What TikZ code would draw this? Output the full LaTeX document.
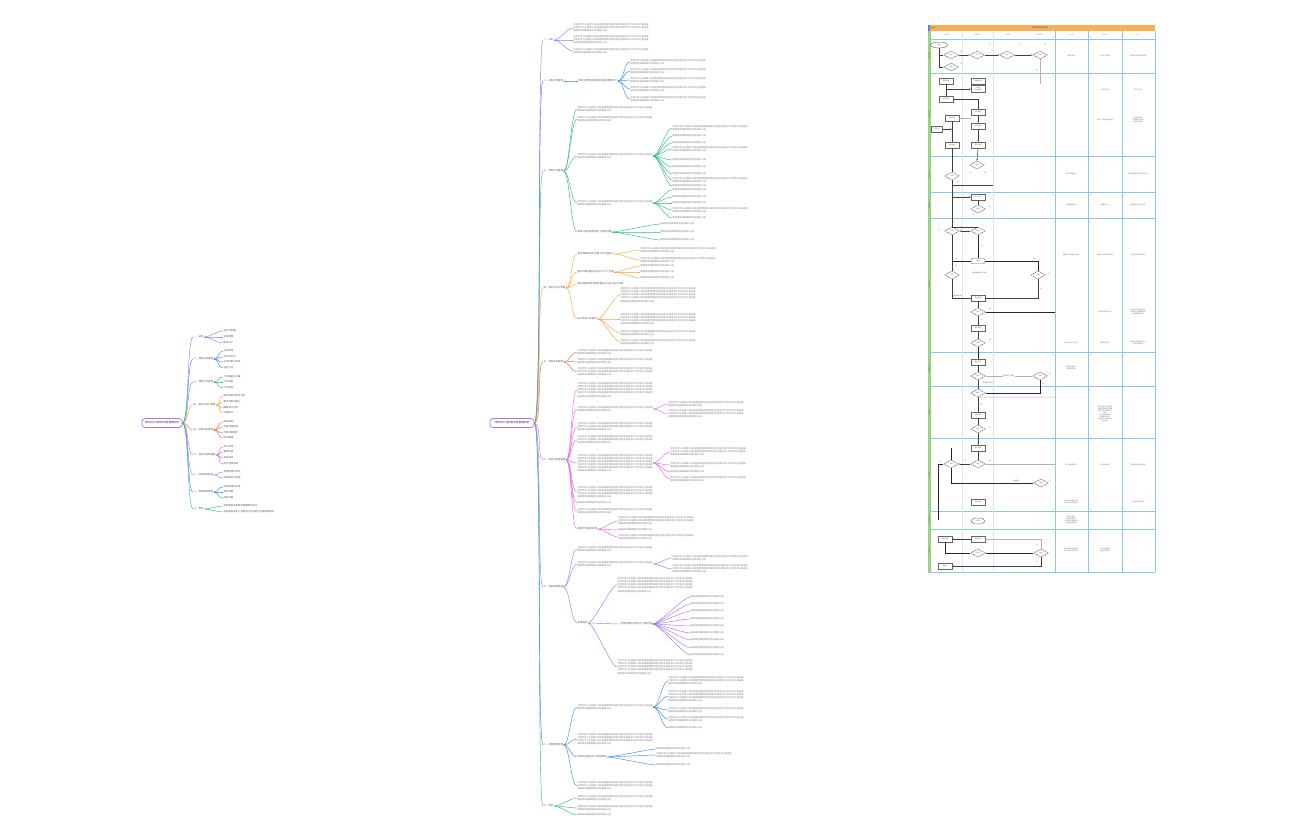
\documentclass[tikz,border=0pt]{standalone}
\usepackage{fontspec}
\setmainfont{Noto Sans CJK SC}
\usetikzlibrary{arrows.meta,shapes.geometric,shapes.misc}

\definecolor{mpurple}{HTML}{A577F2}
\definecolor{mblue}{HTML}{3F88F2}
\definecolor{mgreen}{HTML}{2DBE7E}
\definecolor{morange}{HTML}{F5A53A}
\definecolor{mred}{HTML}{F2653F}
\definecolor{mpink}{HTML}{EE63DD}
\definecolor{lanegreen}{HTML}{9AD47E}
\definecolor{gridblue}{HTML}{8CC6EE}
\definecolor{headorange}{HTML}{F7AE55}

\newcommand\lineA{项目负责人应按照公司研发管理制度的规定组织实施各项工作并及时汇报进展}
\newcommand\lineB{确保项目按期保质完成并做好记录。}
\ExplSyntaxOn
\NewDocumentCommand\blk{m}{\prg_replicate:nn{#1-1}{\lineA\\}\lineB}
\ExplSyntaxOff
\newcommand\conn[3]{\draw[br,#1] (#2.east) .. controls +(6,0) and +(-6,0) .. (#3.west);}

\tikzset{
  root/.style={draw=mpurple, line width=0.7pt, rounded corners=3pt, fill=white,
    minimum height=9, inner sep=1pt, text=black!80, font=\fontsize{2.6}{3}\selectfont},
  lone/.style={anchor=west, inner sep=0.5pt, text=black!65, font=\fontsize{2.4}{3}\selectfont},
  txt/.style={anchor=west, inner sep=0.5pt, align=left, text=black!50, font=\fontsize{2.2}{3.1}\selectfont},
  br/.style={line width=0.45pt},
  % flow chart
  fbox/.style={draw=black!60, fill=white, line width=0.35pt, minimum width=14, minimum height=5.5,
    inner sep=0.3pt, align=center, text=black!65, font=\fontsize{1.6}{1.9}\selectfont},
  fdia/.style={diamond, draw=black!70, dash pattern=on 0.8pt off 0.5pt, line width=0.4pt, fill=white,
    minimum width=15, minimum height=8, inner sep=0, text=black!65, font=\fontsize{1.6}{1.9}\selectfont},
  fstart/.style={ellipse, draw=black!65, line width=0.4pt, fill=white, minimum width=17, minimum height=6,
    inner sep=0, text=black!65, font=\fontsize{1.7}{2}\selectfont},
  frnd/.style={fbox, rounded corners=2pt},
  fhex/.style={chamfered rectangle, chamfered rectangle xsep=2pt, draw=black!70, dash pattern=on 0.8pt off 0.5pt,
    line width=0.4pt, minimum width=14, minimum height=5, inner sep=0.3pt, text=black!65, font=\fontsize{1.6}{1.9}\selectfont},
  flab/.style={inner sep=0.2pt, text=black!65, font=\fontsize{1.5}{1.8}\selectfont},
  fcol/.style={inner sep=0.3pt, align=center, text width=30, text=black!55, font=\fontsize{1.6}{2.1}\selectfont},
  fl/.style={line width=0.5pt, black!75},
  fa/.style={fl, -{Stealth[length=1.6pt,width=1.4pt]}},
  thk/.style={line width=0.8pt, black!85},
  gl/.style={line width=0.5pt, black!30},
  lanelab/.style={rotate=90, inner sep=0, text=black!60, font=\fontsize{1.5}{1.8}\selectfont},
}

\begin{document}
\begin{tikzpicture}[x=1pt, y=-1pt]
\fill[white] (0,0) rectangle (1296,840);
\useasboundingbox (0,0) rectangle (1296,840);

% ---------- small mind map
\node[root, minimum width=40] (lroot) at (162,423) {某科技公司研发项目管理制度};
\foreach \nm/\y/\cl/\tx in {lA/337/mpurple/一、总则, lB/359/mblue/二、项目立项管理,
    lC/382/mgreen/三、项目计划管理, lD/405/morange/四、需求与设计管理, lE/430/mred/五、项目开发管理,
    lF/455/mpink/六、测试与验收管理, lG/475/mpurple/七、项目变更管理, lH/492/mblue/八、项目结项管理,
    lI/509/mgreen/九、附则}
  {\node[lone] (\nm) at (193,\y) {\tx};
   \draw[br,\cl] (lroot.east) .. controls (189,423) and (187,\y) .. (\nm.west);}
\foreach \y/\tx [count=\k] in {331/目的与依据,337/适用范围,343/职责分工}
  {\node[lone] (lA\k) at (223,\y) {\tx}; \conn{mpurple}{lA}{lA\k}}
\foreach \y/\tx [count=\k] in {351/立项申请,357/可行性分析,362/立项评审与审批,368/任务下达}
  {\node[lone] (lB\k) at (223,\y) {\tx}; \conn{mblue}{lB}{lB\k}}
\foreach \y/\tx [count=\k] in {377/计划编制与分解,382/计划评审,388/计划发布}
  {\node[lone] (lC\k) at (223,\y) {\tx}; \conn{mgreen}{lC}{lC\k}}
\foreach \y/\tx [count=\k] in {396/需求调研与需求分析,402/需求评审与确认,408/概要设计评审,413/详细设计}
  {\node[lone] (lD\k) at (223,\y) {\tx}; \conn{morange}{lD}{lD\k}}
\foreach \y/\tx [count=\k] in {422/编码规范,427/开发过程控制,433/代码评审要求,438/版本管理}
  {\node[lone] (lE\k) at (223,\y) {\tx}; \conn{mred}{lE}{lE\k}}
\foreach \y/\tx [count=\k] in {447/单元测试,452/集成测试,458/系统测试,464/用户验收测试}
  {\node[lone] (lF\k) at (223,\y) {\tx}; \conn{mpink}{lF}{lF\k}}
\foreach \y/\tx [count=\k] in {472/变更申请与评估,478/变更审批与实施}
  {\node[lone] (lG\k) at (223,\y) {\tx}; \conn{mpurple}{lG}{lG\k}}
\foreach \y/\tx [count=\k] in {487/结项申请与评审,492/资料归档,498/项目总结}
  {\node[lone] (lH\k) at (223,\y) {\tx}; \conn{mblue}{lH}{lH\k}}
\foreach \y/\tx [count=\k] in {506/本制度由研发部负责解释与修订,512/本制度自发布之日起执行并适用于全部研发项目}
  {\node[lone] (lI\k) at (223,\y) {\tx}; \conn{mgreen}{lI}{lI\k}}

% ---------- large mind map
\node[root, minimum width=44] (mroot) at (512,423) {某科技公司研发项目管理制度};
\foreach \nm/\y/\cl/\tx in {mA/40/mpurple/一、总则, mB/81/mblue/二、项目立项管理,
    mC/171/mgreen/三、项目计划管理, mD/288/morange/四、需求与设计管理, mE/362/mred/五、项目开发管理,
    mF/460/mpink/六、测试与验收管理, mG/587/mpurple/七、项目变更管理, mH/745/mblue/八、项目结项管理,
    mI/806/mgreen/九、附则}
  {\node[lone] (\nm) at (543,\y) {\tx};
   \draw[br,\cl] (mroot.east) .. controls (542,423) and (537,\y) .. (\nm.west);}

% 一
\foreach \y/\n [count=\k] in {28/3,40/3,51/2}
  {\node[txt] (mA\k) at (573,\y) {\blk{\n}}; \conn{mpurple}{mA}{mA\k}}
% 二
\node[lone] (mB1) at (578,81) {项目立项申请及审批的具体要求如下};
\conn{mblue}{mB}{mB1}
\foreach \y/\n [count=\k] in {62/2,71/2,80/2,89/2,99/2}
  {\node[txt] (mB1\k) at (630,\y) {\blk{\n}}; \conn{mblue}{mB1}{mB1\k}}
% 三
\foreach \y/\n [count=\k] in {109/2,119/2,156/2,203/2}
  {\node[txt] (mC\k) at (577,\y) {\blk{\n}}; \conn{mgreen}{mC}{mC\k}}
\node[lone] (mC5) at (577,232) {项目计划的变更按以下程序办理};
\conn{mgreen}{mC}{mC5}
\foreach \y/\n [count=\k] in {128/2,136/1,143/1,149/2,160/1,167/1,174/1,180/2,186/1}
  {\node[txt] (mC3\k) at (672,\y) {\blk{\n}}; \conn{mgreen}{mC3}{mC3\k}}
\foreach \y/\n [count=\k] in {190/1,197/1,203/1,210/2,218/1}
  {\node[txt] (mC4\k) at (672,\y) {\blk{\n}}; \conn{mgreen}{mC4}{mC4\k}}
\foreach \y/\n [count=\k] in {224/1,232/1,240/1}
  {\node[txt] (mC5\k) at (660,\y) {\blk{\n}}; \conn{mgreen}{mC5}{mC5\k}}
% 四
\node[lone] (mD1) at (577,254) {需求调研阶段的主要工作内容如下};
\node[lone] (mD2) at (577,272) {需求评审应重点关注以下几个方面};
\node[lone] (mD3) at (577,284) {需求规格说明书经批准后方可进入设计阶段};
\node[lone] (mD4) at (577,319) {设计阶段工作要求};
\foreach \k in {1,...,4} {\conn{morange}{mD}{mD\k}}
\foreach \y/\n [count=\k] in {250/2,260/2}
  {\node[txt] (mD1\k) at (640,\y) {\blk{\n}}; \conn{morange}{mD1}{mD1\k}}
\foreach \y/\n [count=\k] in {266/1,272/1,278/1}
  {\node[txt] (mD2\k) at (640,\y) {\blk{\n}}; \conn{morange}{mD2}{mD2\k}}
\foreach \y/\n [count=\k] in {295/5,319/4,333/2,342/2}
  {\node[txt] (mD4\k) at (620,\y) {\blk{\n}}; \conn{morange}{mD4}{mD4\k}}
% 五
\foreach \y/\n [count=\k] in {352/2,361/2,372/3}
  {\node[txt] (mE\k) at (577,\y) {\blk{\n}}; \conn{mred}{mE}{mE\k}}
% 六
\foreach \y/\n [count=\k] in {390/5,409/2,427/3,440/3,463/6,492/4,503/1,511/2}
  {\node[txt] (mF\k) at (577,\y) {\blk{\n}}; \conn{mpink}{mF}{mF\k}}
\node[lone] (mF9) at (577,529) {验收不合格的处理};
\conn{mpink}{mF}{mF9}
\foreach \y/\n [count=\k] in {404/2,414/3}
  {\node[txt] (mF2\k) at (668,\y) {\blk{\n}}; \conn{mpink}{mF2}{mF2\k}}
\foreach \y/\n [count=\k] in {452/3,465/2,472/1,479/2}
  {\node[txt] (mF5\k) at (670,\y) {\blk{\n}}; \conn{mpink}{mF5}{mF5\k}}
\foreach \y/\n [count=\k] in {521/3,530/1,537/2}
  {\node[txt] (mF9\k) at (618,\y) {\blk{\n}}; \conn{mpink}{mF9}{mF9\k}}
% 七
\foreach \y/\n [count=\k] in {549/2,564/2}
  {\node[txt] (mG\k) at (577,\y) {\blk{\n}}; \conn{mpurple}{mG}{mG\k}}
\node[lone] (mG3) at (577,623) {变更程序};
\conn{mpurple}{mG}{mG3}
\foreach \y/\n [count=\k] in {558/2,569/3}
  {\node[txt] (mG2\k) at (672,\y) {\blk{\n}}; \conn{mpurple}{mG2}{mG2\k}}
\node[txt] (mG31) at (617,585) {\blk{5}};
\node[lone] (mG32) at (620,624) {变更申请应包括以下主要内容};
\node[txt] (mG33) at (617,667) {\blk{5}};
\foreach \k in {1,2,3} {\conn{mpurple}{mG3}{mG3\k}}
\foreach \y [count=\k] in {597,604,611,619,626,633,640,648,655}
  {\node[txt] (mG32\k) at (690,\y) {\blk{1}}; \conn{mpurple}{mG32}{mG32\k}}
% 八
\foreach \y/\n [count=\k] in {707/2,739/4}
  {\node[txt] (mH\k) at (577,\y) {\blk{\n}}; \conn{mblue}{mH}{mH\k}}
\node[lone] (mH3) at (577,757) {结项时应提交以下项目资料};
\node[txt] (mH4) at (577,786) {\blk{3}};
\conn{mblue}{mH}{mH3} \conn{mblue}{mH}{mH4}
\foreach \y/\n [count=\k] in {681/3,696/4,710/2,719/2,728/1}
  {\node[txt] (mH1\k) at (668,\y) {\blk{\n}}; \conn{mblue}{mH1}{mH1\k}}
\foreach \y/\n [count=\k] in {749/1,755/2,765/1}
  {\node[txt] (mH3\k) at (656,\y) {\blk{\n}}; \conn{mblue}{mH3}{mH3\k}}
% 九
\foreach \y/\n [count=\k] in {798/2,808/2,815/1}
  {\node[txt] (mI\k) at (577,\y) {\blk{\n}}; \conn{mgreen}{mI}{mI\k}}

% ---------- flow chart
\fill[headorange] (928,25) rectangle (1155,31);
\fill[mblue] (928,25) rectangle (929.5,31);
\node[flab, anchor=west] (ftitle) at (930,28) {流程图};
\node[flab, font=\fontsize{2}{2.4}\selectfont] (fhead) at (1040,28) {研发项目管理流程};
\fill[lanegreen] (927.5,31) rectangle (931,572);
\foreach \x/\tx [count=\k] in {947/业务部门,977/项目经理,1008/研发部门,1039/评审委员会,
    1071/输入文档,1105/输出文档,1138/备注}
  {\node[flab, text=gridblue!80!black] (col\k) at (\x,35) {\tx};}
\draw[gridblue, line width=0.6pt] (928,39) -- (1155,39);
\foreach \a/\b/\tx [count=\k] in {39/73/项目立项,73/156/项目计划,156/192/需求分析,192/218/概要设计,
    218/352/开发实施,352/386/集成测试,386/438/系统测试,438/511/用户验收,511/529/项目结项,529/572/项目总结}
  {\draw[gridblue, line width=0.9pt] (928,\b) -- (1155,\b);
   \node[lanelab] (lane\k) at (929.3,{(\a+\b)/2}) {\tx};}
\foreach \x in {962,993}
  \draw[gridblue!40, line width=0.5pt] (\x,31) -- (\x,572);
\foreach \x in {1055,1088,1122,1155}
  \draw[gridblue, line width=0.9pt] (\x,31) -- (\x,572);

% row 1
\node[fstart] (f0) at (939,45) {开始};
\node[fdia] (f1) at (951,55) {审核};
\node[fdia] (f2) at (951,67) {审批};
\node[fdia] (f3) at (977,55) {审核};
\node[fdia] (f4) at (1007,55) {审核};
\node[fdia] (f5) at (1040,55) {审批};
\coordinate (g1) at (1040,84);
\draw[fl] (f0.south) |- (f1.west);
\draw[fl] (f0.south) |- (f2.west);
\draw[fa] (f1.east) -- (f3.west);
\draw[fa] (f3.east) -- (f4.west);
\draw[fa] (f4.east) -- (f5.west);
\draw[gl] (f5.south) -- (g1);
\node[flab] (t1) at (961,52) {否};
\node[flab] (t2) at (961,64) {否};
\node[flab] (t3) at (990,45) {否};
\node[flab] (t4) at (1020,45) {否};
\node[flab] (t5) at (1045,45) {否};
\node[flab] (t6) at (1037,70) {是};
% row 2
\node[fbox] (f6) at (946,81) {立项申请};
\node[fbox] (f7) at (978,81) {项目建议书};
\node[fbox, minimum height=7] (f8) at (978,89) {可行性\\分析报告};
\node[fbox] (f9) at (946,99) {立项评审};
\node[fbox] (f10) at (978,112) {计划编制};
\node[fbox] (f11) at (952,118) {项目计划};
\node[fbox, minimum width=11] (f12) at (937,129) {任务书};
\node[fbox] (f13) at (978,126) {计划审批};
\node[fbox] (f14) at (952,145) {计划发布};
\node[fbox] (f15) at (978,145) {任务分解};
\draw[fl] (f6.south) -- (f9.north);
\draw[fa] (f6.south) |- (f8.west);
\draw[fl] (f9.east) -| (f10.north);
\draw[gl] (f11.east) -- (f10.west |- f11.east);
\draw[fa] (f12.east) -- (f11.south |- f12.east);
\draw[fl] (f11.south) -- (f14.north);
\draw[fa] (f10.south) -- (f13.north);
\draw[fa] (f13.south) -- (f15.north);
% row 3
\node[fdia] (f16) at (977,165) {审核};
\node[fdia] (f17) at (952,176) {评审};
\coordinate (g2) at (993,185);
\draw[fl] (f14.south) -- (f17.north);
\draw[fa] (f15.south) -- (f16.north);
\draw[fl] (f17.south) |- (g2);
\node[flab] (t7) at (970,173) {否};
\node[flab] (t8) at (985,173) {是};
\node[flab] (t9) at (958,182) {是};
% row 4
\node[fbox] (f18) at (978,197) {设计评审};
\node[fdia] (f19) at (978,209) {审核};
\draw[fa] (f17.south) |- (f18.west);
\draw[fl] (f18.south) -- (f19.north);
\node[flab] (t10) at (990,207) {是};
\node[flab] (t11) at (974,215) {否};
% row 5
\node[fdia] (f20) at (952,231) {评审};
\node[fdia] (f21) at (978,231) {审核};
\node[frnd] (f22) at (978,261) {结果};
\node[fdia] (f23) at (952,275) {评审};
\node[fdia] (f24) at (1038,275) {审核};
\node[fbox] (f25) at (978,298) {开发实施};
\node[fdia] (f26) at (978,312) {评审};
\node[fbox] (f27) at (978,328) {单元测试};
\node[fdia] (f28) at (978,343) {审核};
\coordinate (g3) at (1055,312);
\draw[fl] (f17.south) |- (f21.north);
\draw[fa] (f21.west) -- (f20.east);
\draw[thk] (f21.south) -- (f22.north);
\draw[fl] (f20.south) -- (f23.north);
\draw[thk] (f23.north |- f22.west) -- (f22.west);
\draw[thk] (f22.east) -| (f24.north);
\draw[fl] (f23.south) |- (f25.west);
\draw[fl] (f24.south) |- (f25.east);
\draw[fl] (f25.south) -- (f26.north);
\draw[thk] (f26.east) -- (g3);
\draw[fl] (f26.south) -- (f27.north);
\draw[fl] (f27.south) -- (f28.north);
\node[flab] (t12) at (939,230) {否};
\node[flab] (t13) at (966,228) {否};
\node[flab] (t14) at (982,246) {是};
\node[flab] (t15) at (956,259) {是};
\node[flab] (t16) at (1034,259) {是};
\node[flab] (t17) at (956,266) {是};
\node[flab] (t18) at (980,273) {需求规格说明（定稿）};
\node[flab] (t19) at (1049,274) {否};
\node[flab] (t20) at (1041,289) {是};
\node[flab] (t21) at (957,296) {需求规格 定稿};
\node[flab] (t22) at (990,309) {是};
\node[flab] (t23) at (982,320) {否};
\node[flab] (t24) at (990,340) {是};
% row 6
\node[fbox] (f29) at (978,362) {集成测试};
\node[fdia] (f30) at (978,376) {评审};
\node[fdia] (f31) at (1040,376) {审核};
\node[fdia] (f32) at (978,393) {确认};
\draw[thk] (f28.south) -- (f29.north);
\draw[fl] (f29.south) -- (f30.north);
\draw[gl] (f30.east) -- node[flab, fill=white] (t25) {测试报告（草稿）} (f31.west);
\draw[fl] (f30.south) -- (f32.north);
\draw[thk] (f31.south) |- (f32.east);
\node[flab] (t26) at (988,383) {测试报告 已确认};
\node[flab] (t27) at (1050,374) {否};
\node[flab] (t28) at (1043,384) {是};
% row 7
\coordinate (g4) at (1055,397);
\node[fbox] (f33) at (978,415) {系统测试};
\node[fdia] (f34) at (978,429) {评审};
\draw[gl] (f32.south) -- (g4);
\draw[fl] (f32.south) -- (f33.north);
\draw[fl] (f33.south) -- (f34.north);
\node[flab] (t29) at (989,428) {否};
\node[flab] (t30) at (981,405) {是};
% row 8
\node[fbox] (f35) at (978,448) {用户验收};
\node[fdia] (f36) at (951,464) {评审};
\node[fdia] (f37) at (978,464) {审核};
\node[fdia] (f38) at (1041,483) {审批};
\node[fbox] (f39) at (978,502) {资料归档};
\coordinate (g5) at (1055,464);
\coordinate (g6) at (951,448);
\coordinate (g7) at (938,520);
\draw[fa] (f34.south) -- (f35.north);
\draw[fl] (f35.south) -- (f37.north);
\draw[fa] (f37.west) -- (f36.east);
\draw[gl] (f37.east) -- (g5);
\draw[thk] (f36.south) |- (f38.west);
\draw[thk] (g6) -- (f36.north);
\draw[thk] (f36.west) -| (g7);
\node[flab] (t31) at (940,462) {否};
\node[flab] (t32) at (965,461) {否};
\node[flab] (t33) at (990,461) {是};
\node[flab] (t34) at (1016,481) {验收报告};
\node[flab] (t35) at (1050,481) {是};
% row 9
\node[fhex] (f40) at (978,521) {结项};
% row 10
\node[fbox] (f41) at (945,539) {项目总结};
\node[fbox] (f42) at (978,539) {经验分享};
\node[fdia] (f43) at (978,553) {评审};
\node[fdia] (f44) at (1041,553) {审批};
\node[fbox] (f45) at (945,566) {结束};
\draw[fa] (f42.west) -- (f41.east);
\draw[gl] (f42.east) -| (f44.north);
\draw[thk] (f41.south) |- (f43.west);
\draw[thk] (f43.east) -- (f44.west);
\draw[fa, line width=0.8pt] (f44.south) |- (f45.east);
\node[flab] (t36) at (1037,545) {否};
\node[flab] (t37) at (1037,562) {是};

% column texts
\node[fcol] (c11) at (1071,56) {立项申请书};
\node[fcol] (c12) at (1105,56) {可行性分析报告};
\node[fcol] (c13) at (1138,56) {立项评审意见及审批结论};
\node[fcol] (c21) at (1105,90) {项目任务书};
\node[fcol] (c22) at (1138,90) {项目计划书};
\node[fcol] (c23) at (1105,120) {项目计划及资源配置表};
\node[fcol] (c24) at (1138,120) {计划评审记录\\项目进度计划表\\资源分配方案};
\node[fcol] (c31) at (1071,174) {需求调研报告};
\node[fcol] (c32) at (1138,174) {需求规格说明书及评审记录};
\node[fcol] (c41) at (1071,205) {需求规格说明};
\node[fcol] (c42) at (1105,205) {概要设计书};
\node[fcol] (c43) at (1138,205) {概要设计评审记录表};
\node[fcol] (c51) at (1071,255) {概要设计书及相关文档};
\node[fcol] (c52) at (1105,255) {详细设计说明书及代码};
\node[fcol] (c53) at (1138,255) {单元测试用例及报告};
\node[fcol] (c54) at (1105,312) {源代码及测试记录};
\node[fcol] (c55) at (1138,312) {代码评审记录及单元\\测试报告 问题跟踪表\\及缺陷修复记录};
\node[fcol] (c56) at (1071,343) {源代码与设计文档};
\node[fcol] (c57) at (1105,343) {集成测试计划};
\node[fcol] (c58) at (1138,343) {集成测试用例及测试\\报告 缺陷记录};
\node[fcol] (c61) at (1071,368) {集成测试报告\\及问题记录表};
\node[fcol] (c71) at (1105,414) {系统测试计划与用例\\系统测试报告及缺陷\\跟踪记录 性能测试\\报告\\用户手册及安装\\部署说明文档\\问题清单及修复记录\\测试总结};
\node[fcol] (c81) at (1071,465) {用户验收申请表};
\node[fcol] (c82) at (1105,465) {用户验收报告};
\node[fcol] (c83) at (1138,465) {验收意见及问题清单};
\node[fcol] (c84) at (1071,502) {项目资料清单及归档\\记录 项目验收报告};
\node[fcol] (c85) at (1138,502) {资料归档记录表};
\node[fcol] (c91) at (1071,520) {结项申请表\\项目验收报告\\项目资料归档清单\\项目结项审批表};
\node[fcol] (c01) at (1071,550) {项目总结报告及经验\\教训 技术总结文档};
\node[fcol] (c02) at (1105,550) {项目总结报告\\经验分享记录};
\end{tikzpicture}
\end{document}
